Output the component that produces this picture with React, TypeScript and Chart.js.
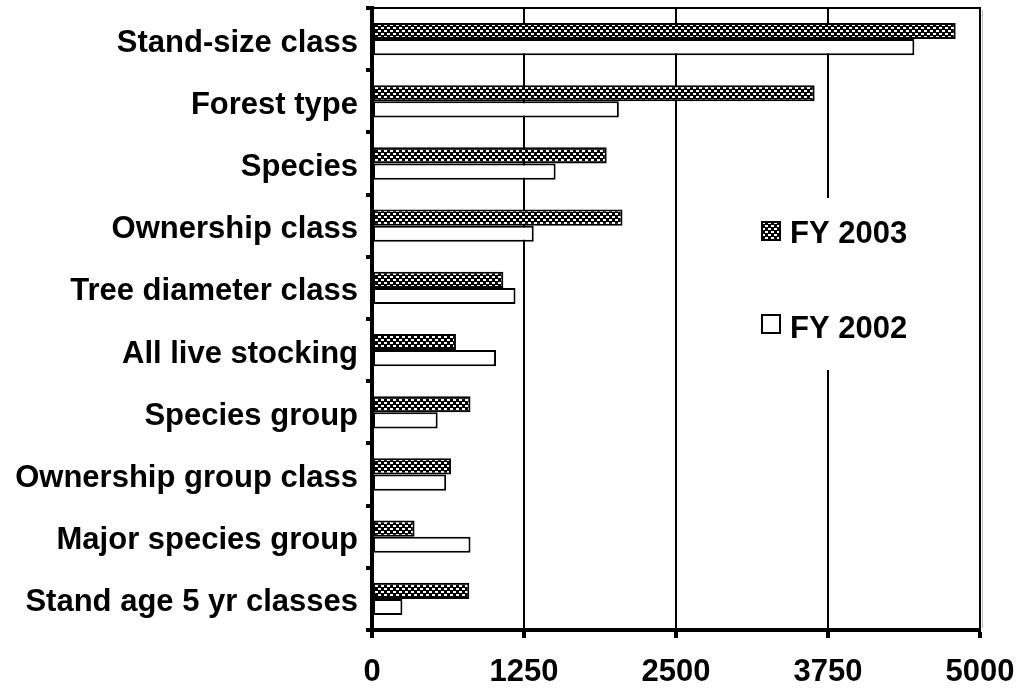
import React, { useEffect, useRef } from "react";
import { Chart, registerables } from "chart.js";

Chart.register(...registerables);

const categories = [
  "Stand-size class",
  "Forest type",
  "Species",
  "Ownership class",
  "Tree diameter class",
  "All live stocking",
  "Species group",
  "Ownership group class",
  "Major species group",
  "Stand age 5 yr classes",
];
const fy2003 = [4800, 3640, 1930, 2060, 1080, 690, 810, 650, 350, 800];
const fy2002 = [4460, 2030, 1510, 1330, 1180, 1020, 540, 610, 810, 250];
const xTicks = [0, 1250, 2500, 3750, 5000];
const seriesLabels = ["FY 2003", "FY 2002"];

const FONT = "'Liberation Sans', Arial, Helvetica, sans-serif";

function makePattern(): CanvasPattern | string {
  const c = document.createElement("canvas");
  c.width = 6;
  c.height = 6;
  const g = c.getContext("2d");
  if (!g) return "#555";
  g.fillStyle = "#000";
  g.fillRect(0, 0, 6, 6);
  g.fillStyle = "#fff";
  g.fillRect(0, 0, 3, 2);
  g.fillRect(3, 3, 3, 2);
  return g.createPattern(c, "repeat") || "#555";
}

export default function App() {
  const ref = useRef<HTMLCanvasElement | null>(null);

  useEffect(() => {
    if (!ref.current) return;
    const pattern = makePattern();

    const frame = {
      id: "frame",
      afterDraw(chart: any) {
        const { ctx, chartArea } = chart;
        ctx.save();
        ctx.strokeStyle = "#000";
        ctx.lineWidth = 2;
        ctx.beginPath();
        ctx.moveTo(chartArea.left, chartArea.top);
        ctx.lineTo(chartArea.right + 1, chartArea.top);
        ctx.stroke();
        ctx.strokeStyle = "#bbb";
        ctx.lineWidth = 1;
        ctx.beginPath();
        ctx.moveTo(chartArea.right + 2.5, chartArea.top + 2);
        ctx.lineTo(chartArea.right + 2.5, chartArea.bottom - 2);
        ctx.stroke();

        // legend
        ctx.fillStyle = "#fff";
        ctx.fillRect(745, 198, 172, 172);
        const items = [
          { label: seriesLabels[0], fill: pattern, sy: 222, base: 243 },
          { label: seriesLabels[1], fill: "#fff", sy: 315, base: 338 },
        ];
        ctx.font = `bold 31px ${FONT}`;
        ctx.textBaseline = "alphabetic";
        ctx.textAlign = "left";
        for (const it of items) {
          ctx.fillStyle = it.fill;
          ctx.fillRect(762, it.sy, 18, 18);
          ctx.strokeStyle = "#000";
          ctx.lineWidth = 2;
          ctx.strokeRect(762, it.sy, 18, 18);
          ctx.fillStyle = "#000";
          ctx.fillText(it.label, 790, it.base);
        }
        ctx.restore();
      },
    };

    const chart = new Chart(ref.current, {
      type: "bar",
      data: {
        labels: categories,
        datasets: [
          {
            label: seriesLabels[0],
            data: fy2003,
            backgroundColor: pattern as any,
            borderColor: "#000",
            borderWidth: 2,
            borderSkipped: false,
            categoryPercentage: 0.52,
            barPercentage: 1,
          },
          {
            label: seriesLabels[1],
            data: fy2002,
            backgroundColor: "#fff",
            borderColor: "#000",
            borderWidth: 2,
            borderSkipped: false,
            categoryPercentage: 0.52,
            barPercentage: 1,
          },
        ],
      },
      options: {
        indexAxis: "y",
        responsive: false,
        animation: false,
        layout: { padding: { top: 8, right: 42, left: 0, bottom: 0 } },
        plugins: {
          legend: { display: false },
          tooltip: { enabled: false },
          title: { display: false },
        },
        scales: {
          x: {
            type: "linear",
            position: "bottom",
            min: 0,
            max: 5000,
            afterBuildTicks: (s: any) => {
              s.ticks = xTicks.map((v) => ({ value: v }));
            },
            afterFit: (s: any) => {
              s.height = 66;
              s.paddingLeft = 0;
              s.paddingRight = 0;
            },
            grid: {
              display: true,
              drawOnChartArea: true,
              color: "#000",
              lineWidth: 2,
              tickLength: 8,
              tickWidth: 4,
              tickColor: "#000",
            },
            border: { display: true, color: "#000", width: 4 },
            ticks: {
              color: "#000",
              padding: 16,
              maxRotation: 0,
              callback: (v: any) => String(v),
              font: { family: FONT, size: 31, weight: "bold" },
            },
          },
          y: {
            type: "category",
            position: "left",
            afterFit: (s: any) => {
              s.width = 372;
              s.paddingTop = 0;
              s.paddingBottom = 0;
            },
            grid: {
              display: true,
              offset: true,
              drawOnChartArea: false,
              color: "#000",
              lineWidth: 4,
              tickLength: 6,
              tickColor: "#000",
            },
            border: { display: true, color: "#000", width: 4 },
            ticks: {
              color: "#000",
              padding: 8,
              labelOffset: 4,
              autoSkip: false,
              font: { family: FONT, size: 31, weight: "bold" },
            },
          },
        },
      },
      plugins: [frame],
    } as any);

    return () => chart.destroy();
  }, []);

  return (
    <div style={{ position: "absolute", left: 0, top: 0, width: 1022, height: 696, background: "#fff" }}>
      <canvas ref={ref} width={1022} height={696} style={{ display: "block" }} />
    </div>
  );
}
